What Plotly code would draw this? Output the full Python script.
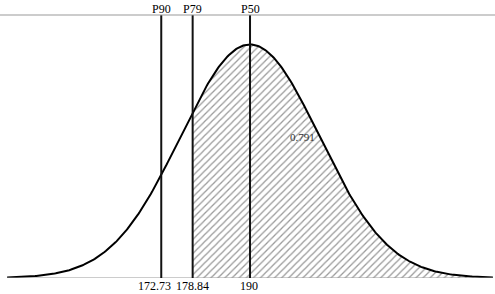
import numpy as np
import plotly.graph_objects as go

mean = 190.0
sd = 13.5
line_labels = ["P90", "P79", "P50"]
line_values = [172.73, 178.84, 190.0]
tick_values = [172.73, 178.84, 190.0]
tick_text = ["172.73", "178.84", "190"]
tick_shift = [-7, 0, -1]
area_label = "0.791"
shade_from = 178.84

SERIF = "'Liberation Serif', 'Times New Roman', Times, serif"

x = np.linspace(mean - 3.5 * sd, mean + 3.5 * sd, 400)
y = np.exp(-0.5 * ((x - mean) / sd) ** 2) / (sd * np.sqrt(2 * np.pi))

fig = go.Figure()
xs = x[x >= shade_from]
xs = np.concatenate([[shade_from], xs])
ys = np.exp(-0.5 * ((xs - mean) / sd) ** 2) / (sd * np.sqrt(2 * np.pi))
fig.add_trace(go.Scatter(x=xs, y=ys, mode="lines", line=dict(width=0),
                         fill="tozeroy", fillcolor="rgba(0,0,0,0)",
                         fillpattern=dict(shape="/", size=5, solidity=0.25,
                                          fgcolor="#333", bgcolor="white"),
                         hoverinfo="skip"))
fig.add_shape(type="line", x0=x[0], x1=x[-1], y0=0, y1=0, xref="x", yref="y",
              line=dict(color="#999", width=1))
fig.add_trace(go.Scatter(x=x, y=y, mode="lines", line=dict(color="black", width=2),
                         hoverinfo="skip"))

ymax = 0.03328
for lab, v in zip(line_labels, line_values):
    fig.add_shape(type="line", x0=v, x1=v, y0=0, y1=ymax, xref="x", yref="y",
                  line=dict(color="#111", width=2))
    fig.add_annotation(x=v, y=1, xref="x", yref="paper", yanchor="bottom",
                       text=lab, showarrow=False, yshift=-3,
                       font=dict(family=SERIF, size=12, color="black"))

for v, t, s in zip(tick_values, tick_text, tick_shift):
    fig.add_annotation(x=v, y=0, xref="x", yref="paper", yanchor="top",
                       text=t, showarrow=False, xshift=s, yshift=0, borderpad=0,
                       font=dict(family=SERIF, size=12, color="black"))

fig.add_annotation(x=200.3, y=0.0179, xref="x", yref="y", text=area_label,
                   showarrow=False, font=dict(family=SERIF, size=11, color="#333"))

fig.add_shape(type="line", x0=0, x1=1, y0=1, y1=1, xref="paper", yref="paper",
              line=dict(color="#999", width=1))

fig.update_layout(
    width=495, height=294,
    margin=dict(l=0, r=0, t=15, b=16),
    plot_bgcolor="white", paper_bgcolor="white",
    showlegend=False,
    xaxis=dict(range=[141.36, 237.66], showticklabels=False,
               showgrid=False, zeroline=False, showline=False, ticks=""),
    yaxis=dict(range=[0, ymax], visible=False, showgrid=False, zeroline=False),
)
fig.write_html("out.html")
